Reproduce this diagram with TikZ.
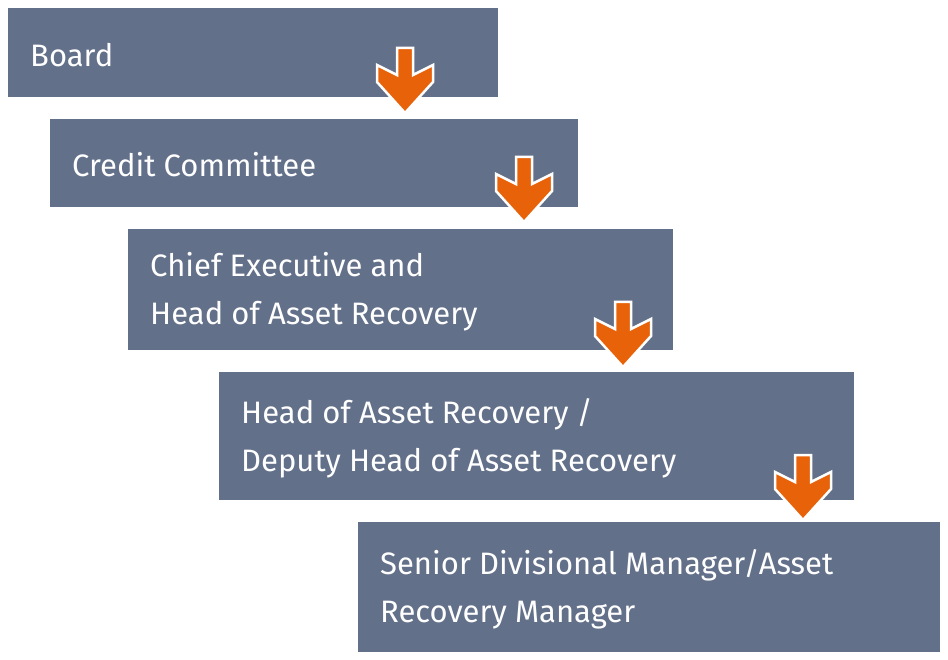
\documentclass[tikz,border=0pt]{standalone}
\usepackage{fontspec}
\setmainfont{Fira Sans}
\begin{document}
\begin{tikzpicture}[x=1pt,y=-1pt,
 box/.style={fill=boxc,draw=none},
 lbl/.style={anchor=west,text=white,font=\fontsize{31}{48}\selectfont,align=left,inner sep=0}]
\definecolor{boxc}{HTML}{63708A}
\definecolor{arr}{HTML}{E8620A}
\useasboundingbox (0,0) rectangle (948,660);
\newcommand{\darrow}[3]{% name, x, y(top)
 \coordinate (#1) at (#2,#3);
 \filldraw[arr,draw=white,line width=2.5pt,line join=miter,shift={(#1)}]
 (-8,0)--(8,0)--(8,27)--(28,17)--(28,34)--(0,65)--(-28,34)--(-28,17)--(-8,27)--cycle;}
\fill[box] (8,8) rectangle (498,97) coordinate (b1);
\fill[box] (50,119) rectangle (578,207);
\fill[box] (128,229) rectangle (673,350);
\fill[box] (219,372) rectangle (854,500);
\fill[box] (358,522) rectangle (940,652);
\node[lbl] (t1) at (30,55) {Board};
\node[lbl] (t2) at (72,165) {Credit Committee};
\node[lbl] (t3) at (150,292) {Chief Executive and\\Head of Asset Recovery};
\node[lbl] (t4) at (241,438) {Head of Asset Recovery /\\Deputy Head of Asset Recovery};
\node[lbl] (t5) at (380,589) {Senior Divisional Manager/Asset\\Recovery Manager};
\darrow{a1}{405}{48}
\darrow{a2}{524}{157}
\darrow{a3}{623}{302}
\darrow{a4}{803}{455}
\end{tikzpicture}
\end{document}
